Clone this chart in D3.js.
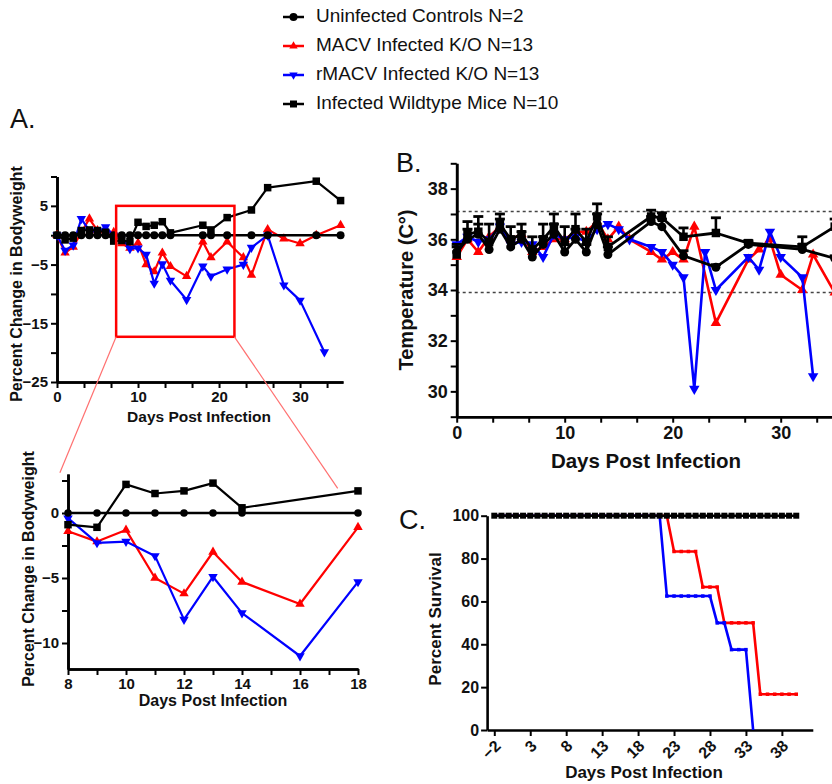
<!DOCTYPE html>
<html><head><meta charset="utf-8">
<script src="https://cdn.jsdelivr.net/npm/d3@7"></script>
<style>body{margin:0;background:#fff}</style>
</head><body>
<svg id="c" width="832" height="784"></svg>
<script>
const FONT = '"Liberation Sans", Arial, sans-serif';

// ---------- Legend ----------
const seriesNames = ["Uninfected Controls N=2","MACV Infected K/O N=13","rMACV Infected K/O N=13","Infected Wildtype Mice N=10"];
const seriesColors = ["#000000","#ff0000","#0000ff","#000000"];
const seriesShapes = ["circle","up","down","square"];

// ---------- Panel A: % change in bodyweight ----------
const wCtrlDays = [0,1,2,3,4,5,6,7,8,9,10,11,12,13,14,18,19,21,24,26,32,35];
const wCtrl     = [0,0,0,0,0,0,0,0,0,0,0,0,0,0,0,0,0,0,0,0,0,0];
const wWTDays   = [0,1,2,3,4,5,6,7,8,9,10,11,12,13,14,18,19,21,24,26,32,35];
const wWT       = [0,-0.8,-0.5,0.8,0.9,0.8,0.5,-1.0,-0.9,-1.1,2.2,1.5,1.7,2.3,0.4,1.7,0.9,3.0,4.3,8.1,9.2,5.9];
const wMacvDays = [0,1,2,3,4,5,6,7,8,9,10,11,12,13,14,16,18,19,21,23,24,26,28,30,32,35];
const wMacv     = [0,-3.0,-2.0,0.5,2.8,0.8,0.5,0.5,-1.4,-2.2,-1.3,-5.0,-6.2,-3.0,-5.3,-7.0,-1.1,-3.8,-1.1,-3.8,-6.8,1.0,-0.6,-1.4,0,1.7];
const wRmacvDays= [0,1,2,3,4,5,6,7,8,9,10,11,12,13,14,16,18,19,21,23,24,26,28,30,33];
const wRmacv    = [0,-2.6,-1.7,2.8,0.8,0.5,1.4,0,-0.4,-2.3,-2.2,-3.3,-8.2,-4.9,-7.7,-11.0,-5.3,-7.0,-5.8,-5.0,-2.1,0,-8.5,-11.1,-19.9];
const aTopYMajor = [5,-5,-15,-25];
const aTopYMinor = [10,0,-10,-20];
const aTopXMajor = [0,10,20,30];
const aTopXMinor = [10/3,20/3,40/3,50/3,70/3,80/3,100/3];
const aBotYMajor = [0,-5,-10];
const aBotYMinor = [2.5,-2.5,-7.5];
const aBotXMajor = [8,10,12,14,16,18];
const aBotXMinor = [9,11,13,15,17];
const zoomBox = {d0: 7.3, d1: 21.9, v0: -17.3, v1: 5};
const zoomTargets = [{d: 7.72, v: 3.1}, {d: 17.3, v: 1.9}];

// ---------- Panel B: temperature ----------
const tCtrlDays = [0,1,2,3,4,5,6,7,8,9,10,11,12,13,14,18,19,21,24,27,32,35];
const tCtrl     = [35.5,36.0,36.2,35.6,36.4,35.7,36.0,35.3,35.8,36.2,35.5,36.0,35.5,36.6,35.4,36.7,36.5,35.35,34.9,35.8,35.6,35.25];
const tCtrlErr  = [0.3,0.4,0.4,0.3,0.4,0.3,0.3,0.3,0.3,0.4,0.3,0.4,0.3,0.4,0.3,0.2,0.3,0.2,0.1,0.1,0.2,0.1];
const tWTDays   = [0,1,2,3,4,5,6,7,8,9,10,11,12,13,14,18,19,21,24,27,32,35];
const tWT       = [35.4,36.2,36.3,35.9,36.6,36.0,36.2,35.6,36.0,36.5,35.9,36.4,35.9,36.9,35.7,36.9,36.85,36.1,36.25,35.85,35.7,36.5];
const tWTErr    = [0.3,0.5,0.6,0.7,0.4,0.5,0.4,0.5,0.6,0.5,0.6,0.6,0.5,0.5,0.4,0.25,0.2,0.35,0.6,0.1,0.4,0.3];
const tMacvDays = [0,1,2,3,4,5,6,7,8,9,10,11,12,13,14,15,16,18,19,20,21,22,24,27,28,29,30,32,33,35];
const tMacv     = [35.3,36.0,35.5,36.1,36.5,36.0,36.2,35.5,35.7,36.0,36.0,36.3,36.3,36.7,36.0,36.5,36.0,35.5,35.2,35.5,35.2,36.5,32.7,35.2,35.6,36.0,34.6,34.0,35.4,33.9];
const tRmacvDays= [0,1,2,3,4,5,6,7,8,9,10,11,12,13,14,15,16,18,19,20,21,22,23,24,27,28,29,30,32,33];
const tRmacv    = [35.8,36.1,35.9,36.0,36.5,35.8,35.9,35.8,35.3,36.2,36.0,36.1,35.9,36.4,36.6,36.4,36.0,35.7,35.5,35.0,34.5,30.1,35.5,34.0,35.3,34.8,36.3,35.3,34.5,30.6];
const tRefLines = [37.1, 33.9];
const bYMajor = [30,32,34,36,38];
const bYMinor = [29,31,33,35,37,39];
const bXMajor = [0,10,20,30];
const bXMinor = [10/3,20/3,40/3,50/3,70/3,80/3,100/3,110/3];

// ---------- Panel C: survival ----------
const sCtrlDays = [-2,-1,0,1,2,3,4,5,6,7,8,9,10,11,12,13,14,15,16,17,18,19,20,21,22,23,24,25,26,27,28,29,30,31,32,33,34,35,36,37,38,39,40];
const sCtrl     = [100,100,100,100,100,100,100,100,100,100,100,100,100,100,100,100,100,100,100,100,100,100,100,100,100,100,100,100,100,100,100,100,100,100,100,100,100,100,100,100,100,100,100];
const sMacvDays = [-2,22,23,26,27,29,30,34,35,40];
const sMacv     = [100,100,83.3,83.3,66.7,66.7,50,50,16.7,16.7];
const sRmacvDays= [-2,21,22,28,29,30,31,33,34];
const sRmacv    = [100,100,62.5,62.5,50,50,37.5,37.5,0];
const cYMajor = [0,20,40,60,80,100];
const cXMajor = [-2,3,8,13,18,23,28,33,38];

// ================= drawing =================
const svg = d3.select("#c").style("font-family", FONT);
svg.append("rect").attr("width",832).attr("height",784).attr("fill","#fff");

function marker(g, shape, x, y, s, color) {
  if (shape === "circle") {
    g.append("circle").attr("cx",x).attr("cy",y).attr("r",s/2).attr("fill",color);
  } else if (shape === "square") {
    g.append("rect").attr("x",x-s/2).attr("y",y-s/2).attr("width",s).attr("height",s).attr("fill",color);
  } else {
    const area = s*s*0.433*1.1;
    const p = d3.symbol().type(d3.symbolTriangle).size(area)();
    g.append("path").attr("d",p).attr("fill",color)
      .attr("transform",`translate(${x},${y})` + (shape==="down" ? " rotate(180)" : ""));
  }
}

function series(g, xs, ys, days, vals, color, shape, msize, lw, lo, hi) {
  const pts = days.map((d,i)=>[d, vals[i]]).filter(p => (lo===undefined || p[0]>=lo) && (hi===undefined || p[0]<=hi));
  g.append("path").datum(pts)
    .attr("d", d3.line().x(p=>xs(p[0])).y(p=>ys(p[1])))
    .attr("fill","none").attr("stroke",color).attr("stroke-width",lw).attr("stroke-linejoin","round");
  pts.forEach(p => marker(g, shape, xs(p[0]), ys(p[1]), msize, color));
}

function axes(g, xs, ys, opt) {
  const ax = g.append("g").attr("transform",`translate(0,${opt.y0})`)
    .call(d3.axisBottom(xs).tickValues(opt.xMajor).tickSize(6).tickSizeOuter(0).tickPadding(opt.xPad||3).tickFormat(opt.xFmt||d3.format("d")));
  if (opt.xMinor) g.append("g").attr("transform",`translate(0,${opt.y0})`)
    .call(d3.axisBottom(xs).tickValues(opt.xMinor).tickSize(6).tickSizeOuter(0).tickFormat(""));
  const ay = g.append("g").attr("transform",`translate(${opt.x0},0)`)
    .call(d3.axisLeft(ys).tickValues(opt.yMajor).tickSize(6).tickSizeOuter(0).tickPadding(opt.yPad||3).tickFormat(d3.format("d")));
  if (opt.yMinor) g.append("g").attr("transform",`translate(${opt.x0},0)`)
    .call(d3.axisLeft(ys).tickValues(opt.yMinor).tickSize(6).tickSizeOuter(0).tickFormat(""));
  g.selectAll(".domain").attr("stroke","#000").attr("stroke-width",2.6);
  g.selectAll(".tick line").attr("stroke","#000").attr("stroke-width",2);
  g.selectAll(".tick text").attr("font-family",FONT).attr("font-weight","bold").attr("fill","#111")
    .attr("font-size",opt.fs);
  return {ax, ay};
}

function label(g, text, x, y, fs, rot) {
  g.append("text").attr("x",0).attr("y",0)
    .attr("transform",`translate(${x},${y})` + (rot ? ` rotate(${rot})` : ""))
    .attr("text-anchor","middle").attr("dominant-baseline","middle")
    .attr("font-family",FONT).attr("font-weight","bold").attr("font-size",fs).attr("fill","#111").text(text);
}

// ---- Legend ----
const lg = svg.append("g");
const legY = [17, 46, 75, 104];
seriesNames.forEach((n,i) => {
  lg.append("line").attr("x1",283).attr("x2",304).attr("y1",legY[i]).attr("y2",legY[i])
    .attr("stroke",seriesColors[i]).attr("stroke-width",2.5);
  marker(lg, seriesShapes[i], 293.5, legY[i], i===0?8:(i===3?7:8), seriesColors[i]);
  lg.append("text").attr("x",316).attr("y",legY[i]).attr("dominant-baseline","middle")
    .attr("font-family",FONT).attr("font-size",19).attr("fill","#111").text(n);
});

// panel letters
svg.append("text").attr("x",10).attr("y",128).attr("font-family",FONT).attr("font-size",27).attr("fill","#111").text("A.");
svg.append("text").attr("x",396).attr("y",172).attr("font-family",FONT).attr("font-size",27).attr("fill","#111").text("B.");
svg.append("text").attr("x",399).attr("y",529).attr("font-family",FONT).attr("font-size",27).attr("fill","#111").text("C.");

// ---- Panel A top ----
const gA = svg.append("g");
const xA = d3.scaleLinear().domain([0,35.3]).range([57,343]);
const yA = d3.scaleLinear().domain([-25,10]).range([382,176.5]);
axes(gA, xA, yA, {y0:382, x0:57, xMajor:aTopXMajor, xMinor:aTopXMinor, yMajor:aTopYMajor, yMinor:aTopYMinor, fs:15});
const gAd = gA.append("g");
series(gAd, xA, yA, wMacvDays, wMacv, "#ff0000", "up", 9, 2.2);
series(gAd, xA, yA, wRmacvDays, wRmacv, "#0000ff", "down", 9, 2.2);
series(gAd, xA, yA, wWTDays, wWT, "#000", "square", 7.5, 2.2);
series(gAd, xA, yA, wCtrlDays, wCtrl, "#000", "circle", 8, 2.6);
label(gA, "Days Post Infection", 199, 418, 15.5);
label(gA, "Percent Change in  Bodyweight", 18, 284, 16, -90);

// zoom box
gA.append("rect").attr("x",xA(zoomBox.d0)).attr("y",yA(zoomBox.v1))
  .attr("width",xA(zoomBox.d1)-xA(zoomBox.d0)).attr("height",yA(zoomBox.v0)-yA(zoomBox.v1))
  .attr("fill","none").attr("stroke","#ff0000").attr("stroke-width",2.5);

// ---- Panel A bottom ----
const gB = svg.append("g");
const xB = d3.scaleLinear().domain([8,18]).range([68,358]);
const yB = d3.scaleLinear().domain([-12,3]).range([669,474]);
gA.append("line").attr("x1",xA(zoomBox.d0)).attr("y1",yA(zoomBox.v0)).attr("x2",xB(zoomTargets[0].d)).attr("y2",yB(zoomTargets[0].v))
  .attr("stroke","#ff7070").attr("stroke-width",1.2);
gA.append("line").attr("x1",xA(zoomBox.d1)).attr("y1",yA(zoomBox.v0)).attr("x2",xB(zoomTargets[1].d)).attr("y2",yB(zoomTargets[1].v))
  .attr("stroke","#ff7070").attr("stroke-width",1.2);
axes(gB, xB, yB, {y0:669, x0:68, xMajor:aBotXMajor, xMinor:aBotXMinor, yMajor:aBotYMajor, yMinor:aBotYMinor, fs:15});
series(gB, xB, yB, wMacvDays, wMacv, "#ff0000", "up", 9, 2.2, 8, 18);
series(gB, xB, yB, wRmacvDays, wRmacv, "#0000ff", "down", 9, 2.2, 8, 18);
series(gB, xB, yB, wWTDays, wWT, "#000", "square", 7.5, 2.2, 8, 18);
series(gB, xB, yB, wCtrlDays, wCtrl, "#000", "circle", 7.5, 2.4, 8, 18);
label(gB, "Days Post Infection", 213, 702, 16);
label(gB, "Percent Change in  Bodyweight", 30, 569, 16, -90);

// ---- Panel B ----
const gT = svg.append("g");
const xT = d3.scaleLinear().domain([0,40]).range([456.7,888.7]);
const yT = d3.scaleLinear().domain([29,39]).range([416.7,163.3]);
tRefLines.forEach(v => gT.append("line").attr("x1",xT(0)).attr("x2",832).attr("y1",yT(v)).attr("y2",yT(v))
  .attr("stroke","#444").attr("stroke-width",1.4).attr("stroke-dasharray","3,3"));
axes(gT, xT, yT, {y0:416.7, x0:456.7, xMajor:bXMajor, xMinor:bXMinor, yMajor:bYMajor, yMinor:bYMinor, fs:18, xPad:4});
series(gT, xT, yT, tMacvDays, tMacv, "#ff0000", "up", 10, 2.6);
series(gT, xT, yT, tRmacvDays, tRmacv, "#0000ff", "down", 10, 2.6);
function errs(g, days, vals, er) {
  days.forEach((d,i) => {
    const x = xT(d), y1 = yT(vals[i]), y2 = yT(vals[i]+er[i]);
    g.append("line").attr("x1",x).attr("x2",x).attr("y1",y1).attr("y2",y2).attr("stroke","#000").attr("stroke-width",2.6);
    g.append("line").attr("x1",x-5).attr("x2",x+5).attr("y1",y2).attr("y2",y2).attr("stroke","#000").attr("stroke-width",2.8);
  });
}
errs(gT, tCtrlDays, tCtrl, tCtrlErr);
errs(gT, tWTDays, tWT, tWTErr);
series(gT, xT, yT, tCtrlDays, tCtrl, "#000", "circle", 9, 2.8);
series(gT, xT, yT, tWTDays, tWT, "#000", "square", 8.5, 2.8);
label(gT, "Temperature (C°)", 408, 290, 20, -90);
label(gT, "Days Post Infection", 646, 463, 20.5);

// ---- Panel C ----
const gC = svg.append("g");
const xS = d3.scaleLinear().domain([-3,42.3]).range([487.1,812.8]);
const yS = d3.scaleLinear().domain([0,100]).range([730,515.7]);
const cAx = axes(gC, xS, yS, {y0:730, x0:487.1, xMajor:cXMajor, yMajor:cYMajor, fs:16, yPad:2});
cAx.ax.selectAll(".tick text").attr("text-anchor","end").attr("dominant-baseline","middle")
  .attr("y",0).attr("dy",null).attr("transform","translate(4,14) rotate(-45)");
function surv(g, days, vals, color, lw, ms, shape) {
  const pts = days.map((d,i)=>[d, vals[i]]);
  g.append("path").datum(pts).attr("d", d3.line().x(p=>xS(p[0])).y(p=>yS(p[1])))
    .attr("fill","none").attr("stroke",color).attr("stroke-width",lw);
  for (let i=0;i<pts.length-1;i++) {
    if (pts[i][1] === pts[i+1][1]) {
      for (let d=Math.ceil(pts[i][0]); d<=pts[i+1][0]; d++) {
        marker(g, shape, xS(d), yS(pts[i][1]), ms, color);
      }
    }
  }
}
surv(gC, sMacvDays, sMacv, "#ff0000", 2.6, 3.5, "square");
surv(gC, sRmacvDays, sRmacv, "#0000ff", 2.6, 3.5, "square");
// black (controls + wildtype) : all 100%
gC.append("path").datum(sCtrlDays.map((d,i)=>[d,sCtrl[i]]))
  .attr("d", d3.line().x(p=>xS(p[0])).y(p=>yS(p[1]))).attr("fill","none").attr("stroke","#000").attr("stroke-width",2.5);
sCtrlDays.forEach((d,i) => marker(gC, "square", xS(d), yS(sCtrl[i]), 6, "#000"));
label(gC, "Percent Survival", 437, 619, 17, -90);
label(gC, "Days Post Infection", 644, 774, 17);
</script>
</body></html>
